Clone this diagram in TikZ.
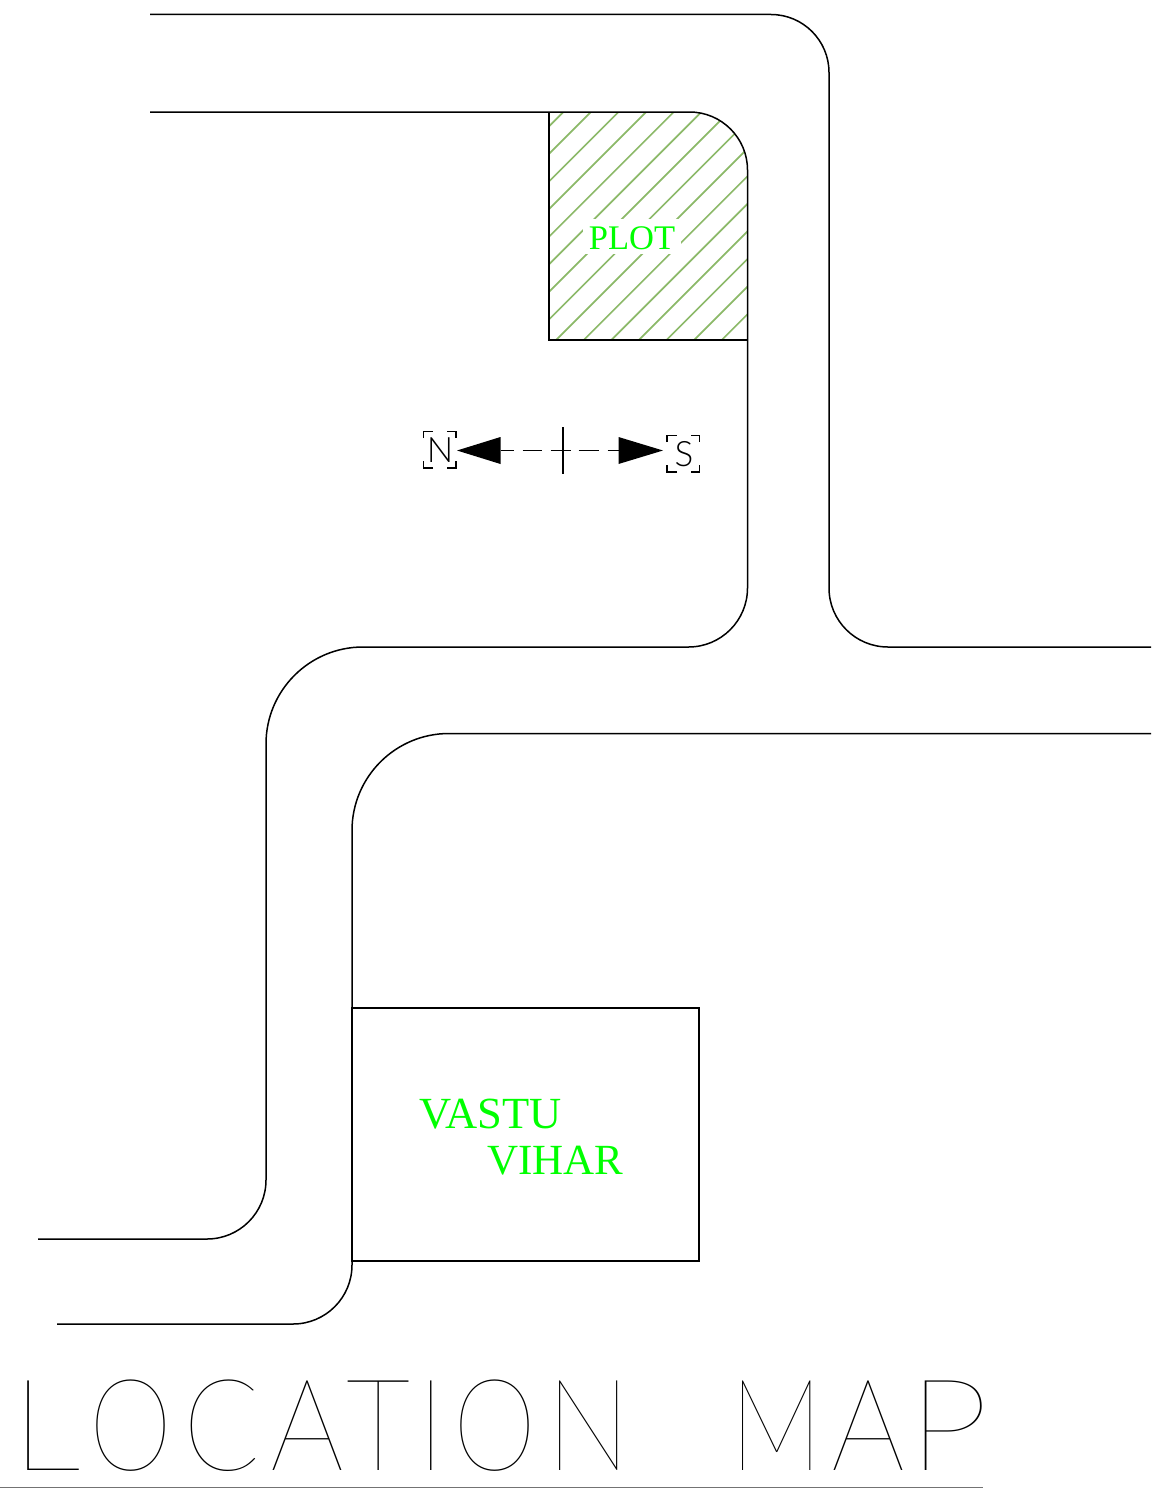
\documentclass[tikz,border=0pt]{standalone}
\usepackage{fontspec}
\setmainfont{Liberation Serif}
\newfontfamily\titlefont{Lato Hairline}[FakeStretch=0.88,Kerning=Off]
\newfontfamily\compassfont{Lato Light}
\definecolor{plotgreen}{RGB}{0,255,0}
\definecolor{hatchgreen}{RGB}{140,185,105}
\newcommand{\tl}[3][1]{\makebox[#2pt][l]{\scalebox{#1}[1]{#3}}}
\tikzset{
  road/.style={draw=black,line width=1.5pt},
  hatchline/.style={draw=hatchgreen,line width=1.7pt},
  greenlabel/.style={text=plotgreen,inner sep=0pt,align=left},
  compass/.style={draw=black,line width=1.1pt},
  compassletter/.style={inner sep=0pt,font=\compassfont\fontsize{35}{35}\selectfont},
  tiphead/.style={fill=black,draw=none}
}
\begin{document}
\begin{tikzpicture}[x=1pt,y=-1pt]
\useasboundingbox (0,0) rectangle (1151,1488);
% hatching
\begin{scope}
  \clip (549,112) -- (689.5,112) arc[start angle=-90,end angle=0,radius=58] -- (747.5,340) -- (549,340) -- cycle;
  \foreach \k in {0,...,15}{
    \pgfmathsetmacro{\c}{675.3+27.6*\k}
    \draw[hatchline] ({\c-100},100) -- ({\c-350},350);
  }
\end{scope}
\fill[white] (583,219) rectangle (681,254);
\node[greenlabel,font=\fontsize{34.5}{34.5}\selectfont] (plot) at (632,238) {PLOT};
% roads
\draw[road] (150,14.5) -- (771,14.5) arc[start angle=-90,end angle=0,radius=58] -- (829,588) arc[start angle=180,end angle=90,radius=59] -- (1151,647);
\draw[road] (150,112) -- (689.5,112) arc[start angle=-90,end angle=0,radius=58] -- (747.5,588) arc[start angle=0,end angle=90,radius=59] -- (363,647) arc[start angle=-90,end angle=-180,radius=97] -- (266,1180) arc[start angle=0,end angle=90,radius=59] -- (38,1239);
\draw[road] (1151,733.5) -- (449,733.5) arc[start angle=-90,end angle=-180,radius=97] -- (352,1265) arc[start angle=0,end angle=90,radius=59] -- (57,1324);
\draw[road] (549,112) -- (549,340) -- (747.5,340);
% building
\draw[road] (352,1008) rectangle (699,1261);
\node[greenlabel,anchor=base west,font=\fontsize{44.5}{44.5}\selectfont] (vastu) at (419,1128.5) {VASTU};
\node[greenlabel,anchor=base west,font=\fontsize{43}{43}\selectfont] (vihar) at (487,1174.5) {VIHAR};
% compass
\node[compassletter] (north) at (440,450) {N};
\node[compassletter] (south) at (684,454) {S};
\draw[compass] (423.5,438) -- (423.5,431.5) -- (433,431.5) (447,431.5) -- (456,431.5) -- (456,438)
  (456,461) -- (456,468) -- (447,468) (433,468) -- (423.5,468) -- (423.5,461);
\draw[compass] (667,442) -- (667,435.5) -- (677,435.5) (691,435.5) -- (699.5,435.5) -- (699.5,442)
  (699.5,465) -- (699.5,472) -- (691,472) (677,472) -- (667,472) -- (667,465);
\coordinate (ntip) at (457,450.5);
\coordinate (nbase) at (500.5,450.5);
\coordinate (stip) at (663,450.5);
\coordinate (sbase) at (618.5,450.5);
\fill[tiphead] (ntip) -- (500.5,437) -- (500.5,464) -- cycle;
\fill[tiphead] (stip) -- (618.5,437) -- (618.5,464) -- cycle;
\draw[compass,dash pattern=on 13pt off 9pt on 19pt off 9pt on 20pt off 8pt on 20pt off 9pt on 12pt] (nbase) -- (sbase);
\draw[compass] (563,427) -- (563,474);
% title
\node[inner sep=0pt,anchor=base west,font=\titlefont\fontsize{128}{128}\selectfont] (title) at (11,1470) {\tl[1.24]{78}{L}\tl[0.94]{94}{O}\tl{87}{C}\tl[1.03]{76}{A}\tl{71}{T}\tl{36}{I}\tl[0.94]{93}{O}\tl{184}{N}\tl[0.92]{101}{M}\tl[1.03]{77}{A}\tl[1.28]{100}{P}};
\draw[draw=black!55,line width=1pt] (0,1487) -- (983,1487);
\end{tikzpicture}
\end{document}
